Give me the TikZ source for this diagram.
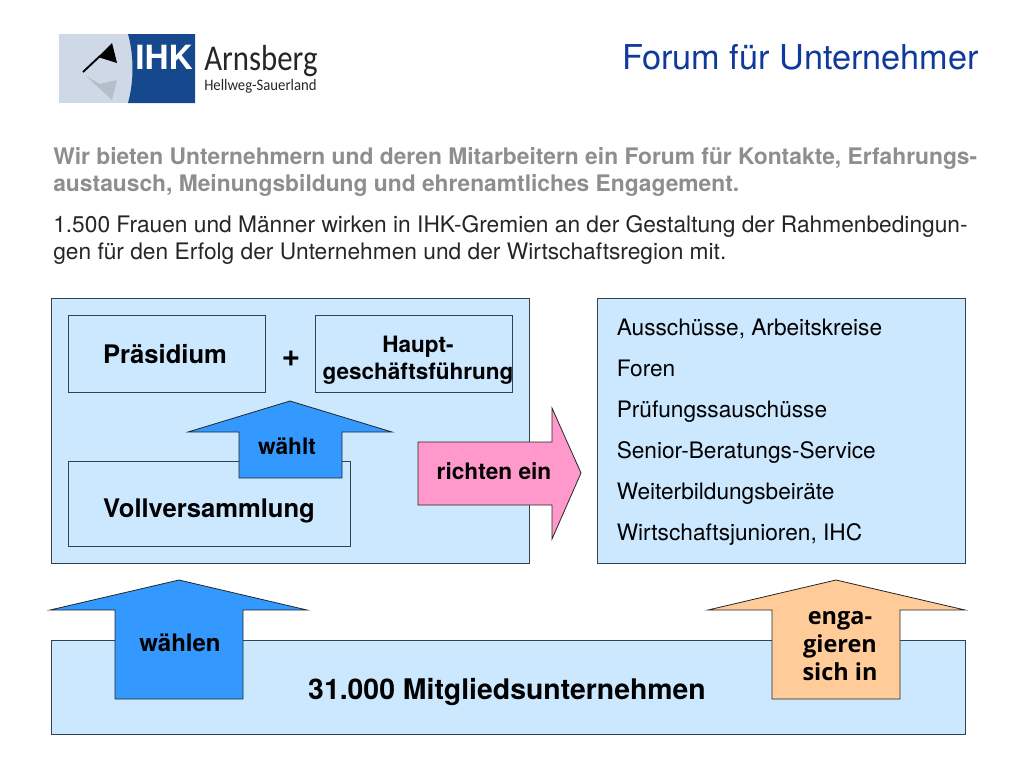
\documentclass[tikz,border=0pt]{standalone}
\usepackage{fontspec}
\usepackage{xcolor}
\setmainfont{TeX Gyre Heros}
\newfontfamily\logofont[FakeStretch=0.85]{Carlito}
\newfontfamily\logosubfont[FakeStretch=0.92]{Carlito}
\newfontfamily\engafont{Open Sans}
\definecolor{titleblue}{HTML}{0F3A9C}
\definecolor{leadgrey}{HTML}{8E8E8E}
\definecolor{boxfill}{HTML}{CCE8FF}
\definecolor{boxline}{HTML}{33424F}
\definecolor{arrowblue}{HTML}{3399FF}
\definecolor{arrowpink}{HTML}{FF99CC}
\definecolor{arrowtan}{HTML}{FFCC99}
\definecolor{logoblue}{HTML}{15488C}
\definecolor{logogrey}{HTML}{CFD8E6}
\tikzset{
  box/.style={draw=boxline, fill=boxfill, line width=0.6pt},
  inbox/.style={draw=boxline, line width=0.6pt},
  arr/.style={draw=black!85, line width=0.6pt, line join=miter},
  lab/.style={font=\fontsize{21.3}{24}\selectfont\bfseries, align=center, inner sep=0pt},
  bigl/.style={font=\fontsize{19.2}{22}\selectfont\bfseries, align=center, inner sep=0pt},
  small/.style={font=\fontsize{17}{20}\selectfont\bfseries, align=center, inner sep=0pt},
  item/.style={font=\fontsize{17}{20}\selectfont, anchor=base west, inner sep=0pt},
  para/.style={font=\fontsize{17.05}{20.3}\selectfont, anchor=north west, align=left, inner sep=0pt},
}
\begin{document}
\begin{tikzpicture}[x=0.75pt, y=-0.75pt]
  \useasboundingbox (0,0) rectangle (1024,768);

  % logo
  \fill[logogrey] (59,34) rectangle (140,103);
  \fill[logoblue] (128,34) .. controls (134,55) and (134,82) .. (128,103) -- (195,103) -- (195,34) -- cycle;
  \fill[black!12!logogrey] (86,76) -- (112,100) -- (117,80) -- (100,84) -- cycle;
  \draw[black, line width=1.4pt] (83,72) -- (100,56);
  \fill[black] (112,43) -- (117,63) -- (98,57) -- cycle;
  \node[text=white, inner sep=0pt, font=\fontsize{25}{25}\selectfont\bfseries] (logoihk) at (164,57) {IHK};
  \node[anchor=base west, inner sep=0pt, text=black!85, font=\logofont\fontsize{27.2}{28}\selectfont] (logoname) at (204,70) {Arnsberg};
  \node[anchor=base west, inner sep=0pt, text=black!85, font=\logosubfont\fontsize{12}{13}\selectfont] (logosub) at (204,90) {Hellweg-Sauerland};

  % heading and text
  \node[anchor=base east, inner sep=0pt, text=titleblue, font=\fontsize{25.7}{26}\selectfont] (title) at (979,69) {Forum für Unternehmer};
  \node[para, text=leadgrey, font=\fontsize{17.1}{20.3}\selectfont\bfseries] (lead) at (53,147)
    {Wir bieten Unternehmern und deren Mitarbeitern ein Forum für Kontakte, Erfahrungs-\\
     austausch, Meinungsbildung und ehrenamtliches Engagement.};
  \node[para, text=black!85] (intro) at (53,215)
    {1.500 Frauen und Männer wirken in IHK-Gremien an der Gestaltung der Rahmenbedingun-\\
     gen für den Erfolg der Unternehmen und der Wirtschaftsregion mit.};

  % left panel
  \draw[box] (51,298) rectangle (529,563);
  \draw[inbox] (68,315) rectangle (265,392);
  \draw[inbox] (315,315) rectangle (512,392);
  \draw[inbox] (68,461) rectangle (350,546);
  \node[bigl] (praesidium) at (165,354) {Präsidium};
  \node[lab, font=\fontsize{24}{24}\selectfont\bfseries] (plus) at (291,359) {+};
  \node[small, font=\fontsize{16.9}{20}\selectfont\bfseries] (hgf) at (418,360) {Haupt-\\geschäftsführung};
  \node[bigl] (vv) at (209,511) {Vollversammlung};
  \draw[arr, fill=arrowblue] (290,401) -- (392,432) -- (342,432) -- (342,478) -- (239,478) -- (239,432) -- (188,432) -- cycle;
  \node[small] (waehlt) at (287,446) {wählt};

  % right panel
  \draw[box] (597,298) rectangle (965,563);
  \node[item] (i1) at (616.5,335) {Ausschüsse, Arbeitskreise};
  \node[item] (i2) at (616.5,376) {Foren};
  \node[item] (i3) at (616.5,417) {Prüfungssauschüsse};
  \node[item] (i4) at (616.5,458) {Senior-Beratungs-Service};
  \node[item] (i5) at (616.5,499) {Weiterbildungsbeiräte};
  \node[item] (i6) at (616.5,540) {Wirtschaftsjunioren, IHC};

  \draw[arr, fill=arrowpink] (418,442) -- (552,442) -- (552,408) -- (581,473) -- (552,539) -- (552,505) -- (418,505) -- cycle;
  \node[small] (richten) at (494,471) {richten ein};

  % bottom band
  \draw[box] (51,640) rectangle (965,734);
  \node[lab] (firmen) at (507,692) {31.000 Mitgliedsunternehmen};
  \draw[arr, fill=arrowblue] (179,580) -- (307,610) -- (243,610) -- (243,699) -- (115,699) -- (115,610) -- (50,610) -- cycle;
  \node[small, font=\fontsize{18}{20}\selectfont\bfseries] (waehlen) at (180,643) {wählen};
  \draw[arr, fill=arrowtan] (836,580) -- (965,610) -- (900,610) -- (900,699) -- (772,699) -- (772,610) -- (708,610) -- cycle;
  \node[small, font=\engafont\fontsize{17.6}{21}\selectfont\bfseries] (enga) at (840,646) {enga-\\gieren\\sich in};
\end{tikzpicture}
\end{document}
